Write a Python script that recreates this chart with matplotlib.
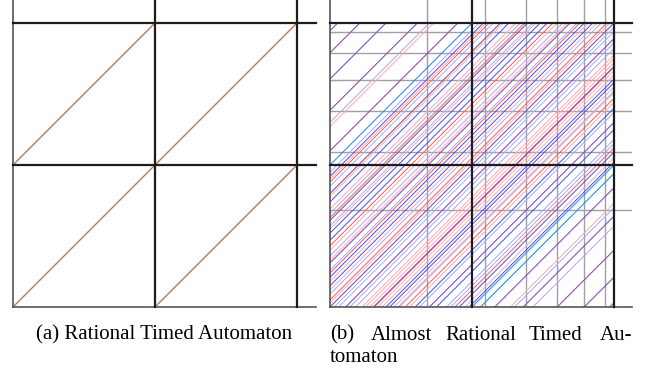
import matplotlib
matplotlib.use("Agg")
import matplotlib.pyplot as plt
import numpy as np

# ---- data ----
# (a) rational automaton: diagonal lines y = x + c
rational_offsets = [-1.0, 0.0, 1.0]

# (b) almost rational automaton: offsets c of the lines y = x + c, by colour
purple_offsets = [1.946, 1.79, 1.606, 1.385, 1.10, 0.80, 0.61, 0.31, 0.0,
                  -0.11, -0.31, -0.70, -1.16, -1.36, -1.60, -1.79, -1.97]
cyan_offsets = [1.0, -1.0, -1.06]
blue_offsets = [0.92, 0.74, 0.52, 0.47, 0.21, 0.15, -0.394, -0.42, -0.60,
                -0.75, -0.91, -0.98]
lightblue_offsets = [1.30, 0.95, 0.85, 0.66, 0.57, 0.36, 0.26, 0.09, -0.03,
                     -0.06, -0.14, -0.18, -0.48, -0.63, -0.82, -0.85, -1.30, -1.43]
red_offsets = [0.88, 0.63, 0.43, 0.24, 0.05, -0.305, -0.53, -0.88]
pink_offsets = [1.27, 0.90, 0.78, 0.69, 0.55, 0.40, 0.33, 0.18, 0.12, 0.03,
                -0.225, -0.25, -0.28, -0.336, -0.366, -0.45, -0.49, -0.56,
                -0.95, -1.27]

# grey region lines of (b)
grey_vals = [0.685, 1.09, 1.38, 1.60, 1.79, 1.94]

thick_vals = [1, 2]

# ---- style ----
W, H = 648, 374
unit = 142.0
brown = '#b67b5c'
black = '#1c1c1c'
edge_grey = '#555555'
grid_grey = '#a0a0a0'
colors = {
    'purple': '#8a50b8',
    'cyan': '#2a95f0',
    'blue': '#4a4aff',
    'lightblue': '#a8a8ff',
    'red': '#ff5a5a',
    'pink': '#ffaaaa',
}

fig = plt.figure(figsize=(W / 100, H / 100), dpi=100)


def make_axes(left_px, right_px):
    ax = fig.add_axes([left_px / W, (H - 307) / H, (right_px - left_px) / W, 307 / H])
    ax.set_xlim(0, (right_px - left_px) / unit)
    ax.set_ylim(0, 307 / unit)
    ax.axis('off')
    return ax


def diag(ax, c, color, lw):
    x0 = max(0.0, -c)
    x1 = min(2.0, 2.0 - c)
    ax.plot([x0, x1], [x0 + c, x1 + c], color=color, lw=lw, solid_capstyle='butt', zorder=3)


def frame(ax):
    xmax = ax.get_xlim()[1]
    ymax = ax.get_ylim()[1]
    ax.plot([0, 0], [0, ymax], color=edge_grey, lw=1.2, clip_on=False, zorder=5)
    ax.plot([0, xmax], [0, 0], color=edge_grey, lw=1.2, clip_on=False, zorder=5)
    for v in thick_vals:
        ax.plot([v, v], [0, ymax], color=black, lw=1.6, clip_on=False, zorder=6)
        ax.plot([0, xmax], [v, v], color=black, lw=1.6, clip_on=False, zorder=6)


# (a)
ax1 = make_axes(13, 316)
for c in rational_offsets:
    diag(ax1, c, brown, 1.0)
frame(ax1)

# (b)
ax2 = make_axes(330, 632)
xmax2 = ax2.get_xlim()[1]
ymax2 = ax2.get_ylim()[1]
for g in grey_vals:
    ax2.plot([g, g], [0, ymax2], color=grid_grey, lw=1.0, zorder=1)
    ax2.plot([0, xmax2], [g, g], color=grid_grey, lw=1.0, zorder=1)

for c in pink_offsets:
    diag(ax2, c, colors['pink'], 0.7)
for c in lightblue_offsets:
    diag(ax2, c, colors['lightblue'], 0.7)
for c in red_offsets:
    diag(ax2, c, colors['red'], 0.7)
for c in blue_offsets:
    diag(ax2, c, colors['blue'], 0.7)
for c in purple_offsets:
    diag(ax2, c, colors['purple'], 0.8)
for c in cyan_offsets:
    diag(ax2, c, colors['cyan'], 0.8)
frame(ax2)

# captions
font = dict(family='Liberation Serif', fontsize=15, color='black', va='center')
fig.text(36 / W, 1 - 335 / H, '(a) Rational Timed Automaton', ha='left', **font)
words = ['(b)', 'Almost', 'Rational', 'Timed', 'Au-']
word_x = [330, 370.5, 445.5, 528.6, 632]
for w, x in zip(words, word_x):
    fig.text(x / W, 1 - 335 / H, w, ha='right' if w == 'Au-' else 'left', **font)
fig.text(330 / W, 1 - 357 / H, 'tomaton', ha='left', **font)

fig.savefig('out.png', dpi=100)
